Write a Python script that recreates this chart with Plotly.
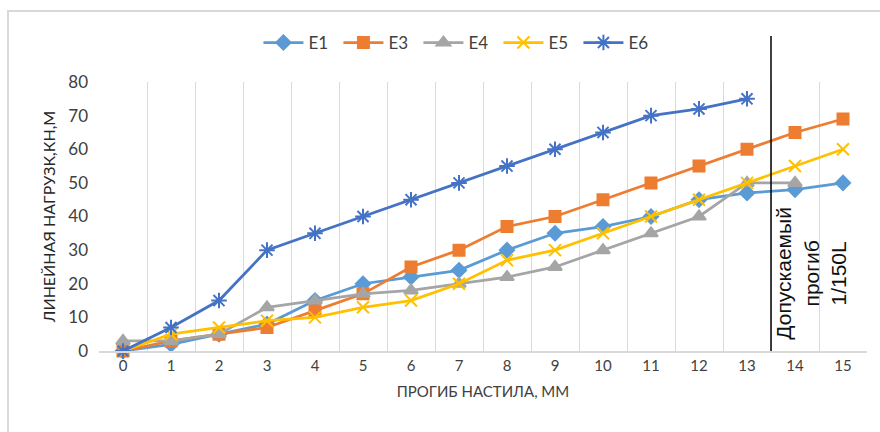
import plotly.graph_objects as go

# Deflection of the deck, mm (category axis)
deflection = [str(i) for i in range(16)]

# Linear load, kN/m, per specimen
e1 = [0, 2, 5, 8, 15, 20, 22, 24, 30, 35, 37, 40, 45, 47, 48, 50]
e3 = [0, 3, 5, 7, 12, 17, 25, 30, 37, 40, 45, 50, 55, 60, 65, 69]
e4 = [3, 3, 5, 13, 15, 17, 18, 20, 22, 25, 30, 35, 40, 50, 50]
e5 = [0, 5, 7, 9, 10, 13, 15, 20, 27, 30, 35, 40, 45, 50, 55, 60]
e6 = [0, 7, 15, 30, 35, 40, 45, 50, 55, 60, 65, 70, 72, 75]

# Allowable deflection position (between categories 13 and 14)
limit_pos = 13.5
limit_label = "Допускаемый<br>прогиб<br>1/150L"

series = [
    ("E1", e1, "#5B9BD5", "diamond", 11),
    ("E3", e3, "#ED7D31", "square", 11),
    ("E4", e4, "#A5A5A5", "triangle-up", 12),
    ("E5", e5, "#FFC000", "x-thin-open", 12),
    ("E6", e6, "#4472C4", "asterisk-open", 13),
]

fig = go.Figure()
for name, vals, color, symbol, size in series:
    fig.add_trace(go.Scatter(
        x=deflection[:len(vals)], y=vals, name=name, mode="lines+markers",
        line=dict(color=color, width=2.75),
        marker=dict(symbol=symbol, size=size, color=color,
                    line=dict(color=color, width=2)),
        cliponaxis=False,
    ))

# Allowable deflection marker line
fig.add_shape(type="line", xref="x", yref="paper",
              x0=limit_pos, x1=limit_pos, y0=0, y1=1.171,
              line=dict(color="black", width=1.5))
fig.add_annotation(x=14, y=23, xref="x", yref="y", text=limit_label,
                   textangle=-90, showarrow=False, align="center", xshift=16,
                   font=dict(family="Liberation Sans, Arial", size=21, color="#111111"))

# Chart area border
fig.add_shape(type="rect", xref="paper", yref="paper",
              x0=-0.1185, x1=1.03, y0=-0.32, y1=1.264,
              line=dict(color="#D9D9D9", width=2), fillcolor="rgba(0,0,0,0)")

fig.update_layout(
    width=880, height=432,
    margin=dict(l=99, r=13, t=82, b=81),
    paper_bgcolor="white", plot_bgcolor="white",
    font=dict(family="Lato, Liberation Sans, Arial", color="#595959"),
    legend=dict(orientation="h", x=0.468, xanchor="center", y=1.145, yanchor="middle",
                font=dict(size=17, color="#404040"), itemwidth=40,
                entrywidth=25, traceorder="normal"),
    showlegend=True,
)
fig.update_xaxes(
    type="category", range=[-0.5, 15.5], tickson="boundaries",
    showgrid=True, gridcolor="#D9D9D9", gridwidth=1,
    showline=True, linecolor="#D9D9D9", linewidth=1.5,
    ticks="", tickfont=dict(size=15, color="#404040"),
    title=dict(text="ПРОГИБ НАСТИЛА, ММ", font=dict(size=15, color="#404040"), standoff=14),
)
fig.update_yaxes(
    range=[0, 80], dtick=10, showgrid=False, zeroline=False, showline=False,
    ticks="", ticklabelstandoff=10, tickfont=dict(size=17, color="#404040"),
    title=dict(text="ЛИНЕЙНАЯ НАГРУЗК,КН,М", font=dict(size=16, color="#262626"), standoff=8),
)

fig.write_html("out.html")
